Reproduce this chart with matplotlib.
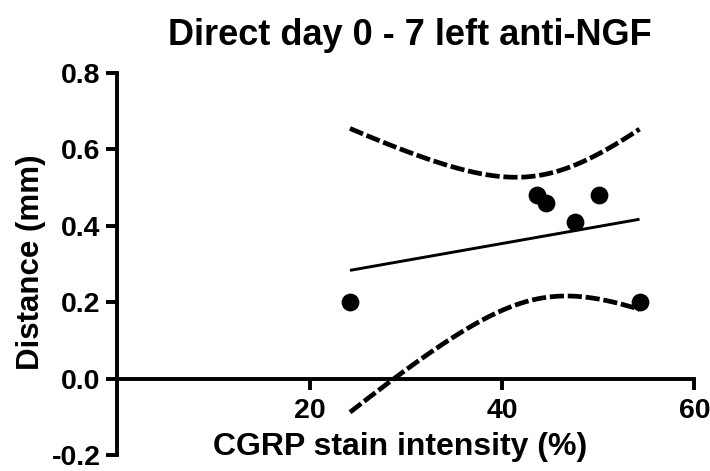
import numpy as np
import matplotlib
matplotlib.use("Agg")
import matplotlib.pyplot as plt

plt.rcParams['font.family'] = ['Liberation Sans', 'DejaVu Sans']
plt.rcParams['font.weight'] = 'bold'

# Data
cgrp = [24.2, 43.6, 44.6, 47.6, 50.1, 54.3]
distance = [0.20, 0.48, 0.46, 0.41, 0.48, 0.20]
x_ticks = [20, 40, 60]
y_ticks = [-0.2, 0.0, 0.2, 0.4, 0.6, 0.8]
title = "Direct day 0 - 7 left anti-NGF"
xlabel = "CGRP stain intensity (%)"
ylabel = "Distance (mm)"
t_crit = 2.776  # t(0.975, df=4) for 95% confidence band

x = np.array(cgrp)
y = np.array(distance)
n = len(x)
slope, intercept = np.polyfit(x, y, 1)
xf = np.linspace(x.min(), x.max(), 200)
yf = intercept + slope * xf
resid = y - (intercept + slope * x)
s = np.sqrt(np.sum(resid ** 2) / (n - 2))
sxx = np.sum((x - x.mean()) ** 2)
half = t_crit * s * np.sqrt(1.0 / n + (xf - x.mean()) ** 2 / sxx)

fig = plt.figure(figsize=(7.10, 4.71), dpi=100)
ax = fig.add_axes([0.165, 0.034, 0.813, 0.811])

ax.plot(xf, yf, color='black', lw=2.1, solid_capstyle='butt')
ax.plot(xf, yf + half, color='black', lw=3.4, dashes=(3.0, 0.8))
ax.plot(xf, yf - half, color='black', lw=3.4, dashes=(3.0, 0.8))
ax.plot(x, y, 'o', color='black', ms=11.8, zorder=5)

ax.set_xlim(0, 60)
ax.set_ylim(-0.2, 0.8)
ax.set_xticks(x_ticks)
ax.set_yticks(y_ticks)
ax.set_yticklabels([f"{v:.1f}" for v in y_ticks])

ax.spines['top'].set_visible(False)
ax.spines['right'].set_visible(False)
ax.spines['bottom'].set_position(('data', 0))
ax.spines['left'].set_linewidth(2.8)
ax.spines['bottom'].set_linewidth(2.8)
ax.tick_params(axis='both', width=2.8, length=8, labelsize=20.5, direction='out')
ax.tick_params(axis='x', pad=6)
ax.tick_params(axis='y', pad=4)

ax.set_xlabel(xlabel, fontsize=23, fontweight='bold', va='center')
ax.xaxis.set_label_coords(0.491, 0.021, transform=ax.transAxes)
ax.set_ylabel(ylabel, fontsize=22.5, fontweight='bold', va='center')
ax.yaxis.set_label_coords(-0.150, 0.505, transform=ax.transAxes)
fig.text(0.577, 0.925, title, fontsize=26, fontweight='bold', ha='center', va='center')

for lab in ax.get_xticklabels() + ax.get_yticklabels():
    lab.set_fontweight('bold')

fig.savefig("out.png", dpi=100)
